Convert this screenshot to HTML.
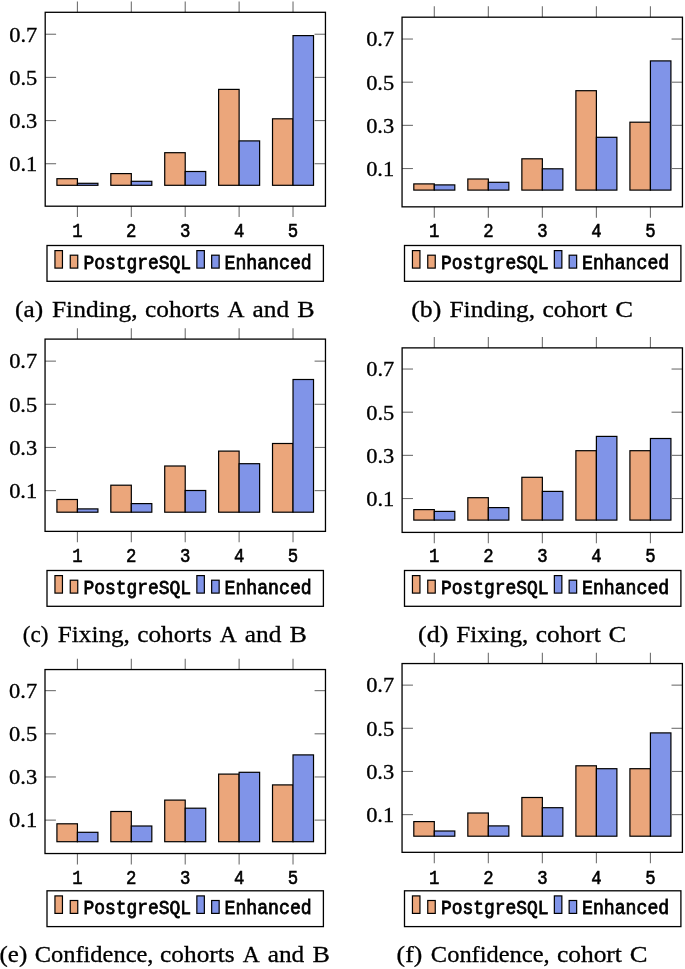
<!DOCTYPE html>
<html><head><meta charset="utf-8"><style>
html,body{margin:0;padding:0;background:#fff;}
svg{display:block;will-change:transform;}
.yl{font-family:"Liberation Serif",serif;font-size:22px;fill:#000;stroke:#000;stroke-width:0.35px;}
.xl{font-family:"Liberation Mono",monospace;font-size:20px;fill:#000;stroke:#000;stroke-width:0.6px;}
.lg{font-family:"Liberation Mono",monospace;font-size:20px;fill:#000;stroke:#000;stroke-width:0.8px;}
.cap{font-family:"Liberation Serif",serif;font-size:23.5px;fill:#000;stroke:#000;stroke-width:0.3px;}
</style></head><body>
<svg width="685" height="969" viewBox="0 0 685 969">
<rect width="685" height="969" fill="#fff"/>
<rect x="56.92" y="178.7" width="20.5" height="6.6" fill="#eba67b" stroke="#000" stroke-width="1.2"/>
<rect x="77.42" y="183.3" width="20.5" height="2" fill="#8094e8" stroke="#000" stroke-width="1.2"/>
<rect x="110.82" y="173.6" width="20.5" height="11.7" fill="#eba67b" stroke="#000" stroke-width="1.2"/>
<rect x="131.32" y="181.3" width="20.5" height="4" fill="#8094e8" stroke="#000" stroke-width="1.2"/>
<rect x="164.72" y="152.7" width="20.5" height="32.6" fill="#eba67b" stroke="#000" stroke-width="1.2"/>
<rect x="185.22" y="171.5" width="20.5" height="13.8" fill="#8094e8" stroke="#000" stroke-width="1.2"/>
<rect x="218.62" y="89.4" width="20.5" height="95.9" fill="#eba67b" stroke="#000" stroke-width="1.2"/>
<rect x="239.12" y="140.9" width="20.5" height="44.4" fill="#8094e8" stroke="#000" stroke-width="1.2"/>
<rect x="272.52" y="118.8" width="20.5" height="66.5" fill="#eba67b" stroke="#000" stroke-width="1.2"/>
<rect x="293.02" y="35.6" width="20.5" height="149.7" fill="#8094e8" stroke="#000" stroke-width="1.2"/>
<line x1="45.2" y1="163.72" x2="56.1" y2="163.72" stroke="#707070" stroke-width="1.1"/>
<line x1="314.55" y1="163.72" x2="325.45" y2="163.72" stroke="#707070" stroke-width="1.1"/>
<text x="37.3" y="171.02" class="yl" text-anchor="end" textLength="28" lengthAdjust="spacingAndGlyphs">0.1</text>
<line x1="45.2" y1="120.56" x2="56.1" y2="120.56" stroke="#707070" stroke-width="1.1"/>
<line x1="314.55" y1="120.56" x2="325.45" y2="120.56" stroke="#707070" stroke-width="1.1"/>
<text x="37.3" y="127.86" class="yl" text-anchor="end" textLength="28" lengthAdjust="spacingAndGlyphs">0.3</text>
<line x1="45.2" y1="77.4" x2="56.1" y2="77.4" stroke="#707070" stroke-width="1.1"/>
<line x1="314.55" y1="77.4" x2="325.45" y2="77.4" stroke="#707070" stroke-width="1.1"/>
<text x="37.3" y="84.7" class="yl" text-anchor="end" textLength="28" lengthAdjust="spacingAndGlyphs">0.5</text>
<line x1="45.2" y1="34.24" x2="56.1" y2="34.24" stroke="#707070" stroke-width="1.1"/>
<line x1="314.55" y1="34.24" x2="325.45" y2="34.24" stroke="#707070" stroke-width="1.1"/>
<text x="37.3" y="41.54" class="yl" text-anchor="end" textLength="28" lengthAdjust="spacingAndGlyphs">0.7</text>
<line x1="77.42" y1="1.4" x2="77.42" y2="12.3" stroke="#707070" stroke-width="1.1"/>
<line x1="77.42" y1="206.2" x2="77.42" y2="217.1" stroke="#707070" stroke-width="1.1"/>
<text x="77.42" y="237" class="xl" text-anchor="middle" textLength="10.4" lengthAdjust="spacingAndGlyphs">1</text>
<line x1="131.32" y1="1.4" x2="131.32" y2="12.3" stroke="#707070" stroke-width="1.1"/>
<line x1="131.32" y1="206.2" x2="131.32" y2="217.1" stroke="#707070" stroke-width="1.1"/>
<text x="131.32" y="237" class="xl" text-anchor="middle" textLength="10.4" lengthAdjust="spacingAndGlyphs">2</text>
<line x1="185.22" y1="1.4" x2="185.22" y2="12.3" stroke="#707070" stroke-width="1.1"/>
<line x1="185.22" y1="206.2" x2="185.22" y2="217.1" stroke="#707070" stroke-width="1.1"/>
<text x="185.22" y="237" class="xl" text-anchor="middle" textLength="10.4" lengthAdjust="spacingAndGlyphs">3</text>
<line x1="239.12" y1="1.4" x2="239.12" y2="12.3" stroke="#707070" stroke-width="1.1"/>
<line x1="239.12" y1="206.2" x2="239.12" y2="217.1" stroke="#707070" stroke-width="1.1"/>
<text x="239.12" y="237" class="xl" text-anchor="middle" textLength="10.4" lengthAdjust="spacingAndGlyphs">4</text>
<line x1="293.02" y1="1.4" x2="293.02" y2="12.3" stroke="#707070" stroke-width="1.1"/>
<line x1="293.02" y1="206.2" x2="293.02" y2="217.1" stroke="#707070" stroke-width="1.1"/>
<text x="293.02" y="237" class="xl" text-anchor="middle" textLength="10.4" lengthAdjust="spacingAndGlyphs">5</text>
<rect x="45.2" y="12.3" width="280.25" height="193.9" fill="none" stroke="#000" stroke-width="1.3"/>
<rect x="47" y="245.5" width="276.4" height="35.8" fill="none" stroke="#000" stroke-width="1.3"/>
<rect x="54.95" y="250.6" width="7.5" height="17.5" fill="#eba67b" stroke="#000" stroke-width="1.2"/>
<rect x="70.25" y="255.2" width="7.5" height="12.9" fill="#eba67b" stroke="#000" stroke-width="1.2"/>
<rect x="196.85" y="250.6" width="7.5" height="17.5" fill="#8094e8" stroke="#000" stroke-width="1.2"/>
<rect x="211.65" y="255.2" width="7.5" height="12.9" fill="#8094e8" stroke="#000" stroke-width="1.2"/>
<text x="83.5" y="268.5" class="lg" textLength="107.6" lengthAdjust="spacingAndGlyphs">PostgreSQL</text>
<text x="224.5" y="268.5" class="lg" textLength="87.2" lengthAdjust="spacingAndGlyphs">Enhanced</text>
<text x="15.14" y="316.8" class="cap" textLength="28.02" lengthAdjust="spacingAndGlyphs">(a)</text>
<text x="51.98" y="316.8" class="cap" textLength="85.55" lengthAdjust="spacingAndGlyphs">Finding,</text>
<text x="145.02" y="316.8" class="cap" textLength="74.55" lengthAdjust="spacingAndGlyphs">cohorts</text>
<text x="227.6" y="316.8" class="cap" textLength="16.97" lengthAdjust="spacingAndGlyphs">A</text>
<text x="252.55" y="316.8" class="cap" textLength="36.57" lengthAdjust="spacingAndGlyphs">and</text>
<text x="297.37" y="316.8" class="cap" textLength="17.42" lengthAdjust="spacingAndGlyphs">B</text>
<rect x="413.8" y="183.9" width="20.5" height="6.2" fill="#eba67b" stroke="#000" stroke-width="1.2"/>
<rect x="434.3" y="184.9" width="20.5" height="5.2" fill="#8094e8" stroke="#000" stroke-width="1.2"/>
<rect x="467.83" y="179" width="20.5" height="11.1" fill="#eba67b" stroke="#000" stroke-width="1.2"/>
<rect x="488.33" y="182.3" width="20.5" height="7.8" fill="#8094e8" stroke="#000" stroke-width="1.2"/>
<rect x="521.86" y="158.8" width="20.5" height="31.3" fill="#eba67b" stroke="#000" stroke-width="1.2"/>
<rect x="542.36" y="168.8" width="20.5" height="21.3" fill="#8094e8" stroke="#000" stroke-width="1.2"/>
<rect x="575.89" y="90.7" width="20.5" height="99.4" fill="#eba67b" stroke="#000" stroke-width="1.2"/>
<rect x="596.39" y="137.3" width="20.5" height="52.8" fill="#8094e8" stroke="#000" stroke-width="1.2"/>
<rect x="629.92" y="122.2" width="20.5" height="67.9" fill="#eba67b" stroke="#000" stroke-width="1.2"/>
<rect x="650.42" y="60.9" width="20.5" height="129.2" fill="#8094e8" stroke="#000" stroke-width="1.2"/>
<line x1="402.05" y1="168.52" x2="412.95" y2="168.52" stroke="#707070" stroke-width="1.1"/>
<line x1="671.54" y1="168.52" x2="682.44" y2="168.52" stroke="#707070" stroke-width="1.1"/>
<text x="394.15" y="175.82" class="yl" text-anchor="end" textLength="28" lengthAdjust="spacingAndGlyphs">0.1</text>
<line x1="402.05" y1="125.36" x2="412.95" y2="125.36" stroke="#707070" stroke-width="1.1"/>
<line x1="671.54" y1="125.36" x2="682.44" y2="125.36" stroke="#707070" stroke-width="1.1"/>
<text x="394.15" y="132.66" class="yl" text-anchor="end" textLength="28" lengthAdjust="spacingAndGlyphs">0.3</text>
<line x1="402.05" y1="82.2" x2="412.95" y2="82.2" stroke="#707070" stroke-width="1.1"/>
<line x1="671.54" y1="82.2" x2="682.44" y2="82.2" stroke="#707070" stroke-width="1.1"/>
<text x="394.15" y="89.5" class="yl" text-anchor="end" textLength="28" lengthAdjust="spacingAndGlyphs">0.5</text>
<line x1="402.05" y1="39.04" x2="412.95" y2="39.04" stroke="#707070" stroke-width="1.1"/>
<line x1="671.54" y1="39.04" x2="682.44" y2="39.04" stroke="#707070" stroke-width="1.1"/>
<text x="394.15" y="46.34" class="yl" text-anchor="end" textLength="28" lengthAdjust="spacingAndGlyphs">0.7</text>
<line x1="434.3" y1="6.3" x2="434.3" y2="17.2" stroke="#707070" stroke-width="1.1"/>
<line x1="434.3" y1="206.84" x2="434.3" y2="217.74" stroke="#707070" stroke-width="1.1"/>
<text x="434.3" y="237" class="xl" text-anchor="middle" textLength="10.4" lengthAdjust="spacingAndGlyphs">1</text>
<line x1="488.33" y1="6.3" x2="488.33" y2="17.2" stroke="#707070" stroke-width="1.1"/>
<line x1="488.33" y1="206.84" x2="488.33" y2="217.74" stroke="#707070" stroke-width="1.1"/>
<text x="488.33" y="237" class="xl" text-anchor="middle" textLength="10.4" lengthAdjust="spacingAndGlyphs">2</text>
<line x1="542.36" y1="6.3" x2="542.36" y2="17.2" stroke="#707070" stroke-width="1.1"/>
<line x1="542.36" y1="206.84" x2="542.36" y2="217.74" stroke="#707070" stroke-width="1.1"/>
<text x="542.36" y="237" class="xl" text-anchor="middle" textLength="10.4" lengthAdjust="spacingAndGlyphs">3</text>
<line x1="596.39" y1="6.3" x2="596.39" y2="17.2" stroke="#707070" stroke-width="1.1"/>
<line x1="596.39" y1="206.84" x2="596.39" y2="217.74" stroke="#707070" stroke-width="1.1"/>
<text x="596.39" y="237" class="xl" text-anchor="middle" textLength="10.4" lengthAdjust="spacingAndGlyphs">4</text>
<line x1="650.42" y1="6.3" x2="650.42" y2="17.2" stroke="#707070" stroke-width="1.1"/>
<line x1="650.42" y1="206.84" x2="650.42" y2="217.74" stroke="#707070" stroke-width="1.1"/>
<text x="650.42" y="237" class="xl" text-anchor="middle" textLength="10.4" lengthAdjust="spacingAndGlyphs">5</text>
<rect x="402.05" y="17.2" width="280.39" height="189.64" fill="none" stroke="#000" stroke-width="1.3"/>
<rect x="404.5" y="245.5" width="276.4" height="35.8" fill="none" stroke="#000" stroke-width="1.3"/>
<rect x="412.45" y="250.6" width="7.5" height="17.5" fill="#eba67b" stroke="#000" stroke-width="1.2"/>
<rect x="427.75" y="255.2" width="7.5" height="12.9" fill="#eba67b" stroke="#000" stroke-width="1.2"/>
<rect x="554.35" y="250.6" width="7.5" height="17.5" fill="#8094e8" stroke="#000" stroke-width="1.2"/>
<rect x="569.15" y="255.2" width="7.5" height="12.9" fill="#8094e8" stroke="#000" stroke-width="1.2"/>
<text x="441" y="268.5" class="lg" textLength="107.6" lengthAdjust="spacingAndGlyphs">PostgreSQL</text>
<text x="582" y="268.5" class="lg" textLength="87.2" lengthAdjust="spacingAndGlyphs">Enhanced</text>
<text x="411.22" y="317" class="cap" textLength="29.98" lengthAdjust="spacingAndGlyphs">(b)</text>
<text x="449.48" y="317" class="cap" textLength="85.55" lengthAdjust="spacingAndGlyphs">Finding,</text>
<text x="542.42" y="317" class="cap" textLength="65.02" lengthAdjust="spacingAndGlyphs">cohort</text>
<text x="615.21" y="317" class="cap" textLength="17.78" lengthAdjust="spacingAndGlyphs">C</text>
<rect x="56.92" y="499.5" width="20.5" height="12.7" fill="#eba67b" stroke="#000" stroke-width="1.2"/>
<rect x="77.42" y="508.9" width="20.5" height="3.3" fill="#8094e8" stroke="#000" stroke-width="1.2"/>
<rect x="110.82" y="485.2" width="20.5" height="27" fill="#eba67b" stroke="#000" stroke-width="1.2"/>
<rect x="131.32" y="503.6" width="20.5" height="8.6" fill="#8094e8" stroke="#000" stroke-width="1.2"/>
<rect x="164.72" y="466" width="20.5" height="46.2" fill="#eba67b" stroke="#000" stroke-width="1.2"/>
<rect x="185.22" y="490.5" width="20.5" height="21.7" fill="#8094e8" stroke="#000" stroke-width="1.2"/>
<rect x="218.62" y="451.1" width="20.5" height="61.1" fill="#eba67b" stroke="#000" stroke-width="1.2"/>
<rect x="239.12" y="463.7" width="20.5" height="48.5" fill="#8094e8" stroke="#000" stroke-width="1.2"/>
<rect x="272.52" y="443.5" width="20.5" height="68.7" fill="#eba67b" stroke="#000" stroke-width="1.2"/>
<rect x="293.02" y="379.5" width="20.5" height="132.7" fill="#8094e8" stroke="#000" stroke-width="1.2"/>
<line x1="45.05" y1="490.62" x2="55.95" y2="490.62" stroke="#707070" stroke-width="1.1"/>
<line x1="314.57" y1="490.62" x2="325.47" y2="490.62" stroke="#707070" stroke-width="1.1"/>
<text x="37.15" y="497.92" class="yl" text-anchor="end" textLength="28" lengthAdjust="spacingAndGlyphs">0.1</text>
<line x1="45.05" y1="447.46" x2="55.95" y2="447.46" stroke="#707070" stroke-width="1.1"/>
<line x1="314.57" y1="447.46" x2="325.47" y2="447.46" stroke="#707070" stroke-width="1.1"/>
<text x="37.15" y="454.76" class="yl" text-anchor="end" textLength="28" lengthAdjust="spacingAndGlyphs">0.3</text>
<line x1="45.05" y1="404.3" x2="55.95" y2="404.3" stroke="#707070" stroke-width="1.1"/>
<line x1="314.57" y1="404.3" x2="325.47" y2="404.3" stroke="#707070" stroke-width="1.1"/>
<text x="37.15" y="411.6" class="yl" text-anchor="end" textLength="28" lengthAdjust="spacingAndGlyphs">0.5</text>
<line x1="45.05" y1="361.14" x2="55.95" y2="361.14" stroke="#707070" stroke-width="1.1"/>
<line x1="314.57" y1="361.14" x2="325.47" y2="361.14" stroke="#707070" stroke-width="1.1"/>
<text x="37.15" y="368.44" class="yl" text-anchor="end" textLength="28" lengthAdjust="spacingAndGlyphs">0.7</text>
<line x1="77.42" y1="328.2" x2="77.42" y2="339.1" stroke="#707070" stroke-width="1.1"/>
<line x1="77.42" y1="531.37" x2="77.42" y2="542.27" stroke="#707070" stroke-width="1.1"/>
<text x="77.42" y="562" class="xl" text-anchor="middle" textLength="10.4" lengthAdjust="spacingAndGlyphs">1</text>
<line x1="131.32" y1="328.2" x2="131.32" y2="339.1" stroke="#707070" stroke-width="1.1"/>
<line x1="131.32" y1="531.37" x2="131.32" y2="542.27" stroke="#707070" stroke-width="1.1"/>
<text x="131.32" y="562" class="xl" text-anchor="middle" textLength="10.4" lengthAdjust="spacingAndGlyphs">2</text>
<line x1="185.22" y1="328.2" x2="185.22" y2="339.1" stroke="#707070" stroke-width="1.1"/>
<line x1="185.22" y1="531.37" x2="185.22" y2="542.27" stroke="#707070" stroke-width="1.1"/>
<text x="185.22" y="562" class="xl" text-anchor="middle" textLength="10.4" lengthAdjust="spacingAndGlyphs">3</text>
<line x1="239.12" y1="328.2" x2="239.12" y2="339.1" stroke="#707070" stroke-width="1.1"/>
<line x1="239.12" y1="531.37" x2="239.12" y2="542.27" stroke="#707070" stroke-width="1.1"/>
<text x="239.12" y="562" class="xl" text-anchor="middle" textLength="10.4" lengthAdjust="spacingAndGlyphs">4</text>
<line x1="293.02" y1="328.2" x2="293.02" y2="339.1" stroke="#707070" stroke-width="1.1"/>
<line x1="293.02" y1="531.37" x2="293.02" y2="542.27" stroke="#707070" stroke-width="1.1"/>
<text x="293.02" y="562" class="xl" text-anchor="middle" textLength="10.4" lengthAdjust="spacingAndGlyphs">5</text>
<rect x="45.05" y="339.1" width="280.42" height="192.27" fill="none" stroke="#000" stroke-width="1.3"/>
<rect x="47" y="570.5" width="276.4" height="35.8" fill="none" stroke="#000" stroke-width="1.3"/>
<rect x="54.95" y="575.6" width="7.5" height="17.5" fill="#eba67b" stroke="#000" stroke-width="1.2"/>
<rect x="70.25" y="580.2" width="7.5" height="12.9" fill="#eba67b" stroke="#000" stroke-width="1.2"/>
<rect x="196.85" y="575.6" width="7.5" height="17.5" fill="#8094e8" stroke="#000" stroke-width="1.2"/>
<rect x="211.65" y="580.2" width="7.5" height="12.9" fill="#8094e8" stroke="#000" stroke-width="1.2"/>
<text x="83.5" y="593.5" class="lg" textLength="107.6" lengthAdjust="spacingAndGlyphs">PostgreSQL</text>
<text x="224.5" y="593.5" class="lg" textLength="87.2" lengthAdjust="spacingAndGlyphs">Enhanced</text>
<text x="22.82" y="642" class="cap" textLength="25.66" lengthAdjust="spacingAndGlyphs">(c)</text>
<text x="57.79" y="642" class="cap" textLength="72.11" lengthAdjust="spacingAndGlyphs">Fixing,</text>
<text x="137.22" y="642" class="cap" textLength="74.55" lengthAdjust="spacingAndGlyphs">cohorts</text>
<text x="219.8" y="642" class="cap" textLength="16.97" lengthAdjust="spacingAndGlyphs">A</text>
<text x="244.75" y="642" class="cap" textLength="36.57" lengthAdjust="spacingAndGlyphs">and</text>
<text x="289.57" y="642" class="cap" textLength="17.42" lengthAdjust="spacingAndGlyphs">B</text>
<rect x="413.8" y="509.6" width="20.5" height="10.5" fill="#eba67b" stroke="#000" stroke-width="1.2"/>
<rect x="434.3" y="511.4" width="20.5" height="8.7" fill="#8094e8" stroke="#000" stroke-width="1.2"/>
<rect x="467.83" y="497.7" width="20.5" height="22.4" fill="#eba67b" stroke="#000" stroke-width="1.2"/>
<rect x="488.33" y="507.6" width="20.5" height="12.5" fill="#8094e8" stroke="#000" stroke-width="1.2"/>
<rect x="521.86" y="477.3" width="20.5" height="42.8" fill="#eba67b" stroke="#000" stroke-width="1.2"/>
<rect x="542.36" y="491.4" width="20.5" height="28.7" fill="#8094e8" stroke="#000" stroke-width="1.2"/>
<rect x="575.89" y="450.7" width="20.5" height="69.4" fill="#eba67b" stroke="#000" stroke-width="1.2"/>
<rect x="596.39" y="436.4" width="20.5" height="83.7" fill="#8094e8" stroke="#000" stroke-width="1.2"/>
<rect x="629.92" y="450.7" width="20.5" height="69.4" fill="#eba67b" stroke="#000" stroke-width="1.2"/>
<rect x="650.42" y="438.5" width="20.5" height="81.6" fill="#8094e8" stroke="#000" stroke-width="1.2"/>
<line x1="402.12" y1="498.52" x2="413.02" y2="498.52" stroke="#707070" stroke-width="1.1"/>
<line x1="671.54" y1="498.52" x2="682.44" y2="498.52" stroke="#707070" stroke-width="1.1"/>
<text x="394.22" y="505.82" class="yl" text-anchor="end" textLength="28" lengthAdjust="spacingAndGlyphs">0.1</text>
<line x1="402.12" y1="455.36" x2="413.02" y2="455.36" stroke="#707070" stroke-width="1.1"/>
<line x1="671.54" y1="455.36" x2="682.44" y2="455.36" stroke="#707070" stroke-width="1.1"/>
<text x="394.22" y="462.66" class="yl" text-anchor="end" textLength="28" lengthAdjust="spacingAndGlyphs">0.3</text>
<line x1="402.12" y1="412.2" x2="413.02" y2="412.2" stroke="#707070" stroke-width="1.1"/>
<line x1="671.54" y1="412.2" x2="682.44" y2="412.2" stroke="#707070" stroke-width="1.1"/>
<text x="394.22" y="419.5" class="yl" text-anchor="end" textLength="28" lengthAdjust="spacingAndGlyphs">0.5</text>
<line x1="402.12" y1="369.04" x2="413.02" y2="369.04" stroke="#707070" stroke-width="1.1"/>
<line x1="671.54" y1="369.04" x2="682.44" y2="369.04" stroke="#707070" stroke-width="1.1"/>
<text x="394.22" y="376.34" class="yl" text-anchor="end" textLength="28" lengthAdjust="spacingAndGlyphs">0.7</text>
<line x1="434.3" y1="336.98" x2="434.3" y2="347.88" stroke="#707070" stroke-width="1.1"/>
<line x1="434.3" y1="532.4" x2="434.3" y2="543.3" stroke="#707070" stroke-width="1.1"/>
<text x="434.3" y="562" class="xl" text-anchor="middle" textLength="10.4" lengthAdjust="spacingAndGlyphs">1</text>
<line x1="488.33" y1="336.98" x2="488.33" y2="347.88" stroke="#707070" stroke-width="1.1"/>
<line x1="488.33" y1="532.4" x2="488.33" y2="543.3" stroke="#707070" stroke-width="1.1"/>
<text x="488.33" y="562" class="xl" text-anchor="middle" textLength="10.4" lengthAdjust="spacingAndGlyphs">2</text>
<line x1="542.36" y1="336.98" x2="542.36" y2="347.88" stroke="#707070" stroke-width="1.1"/>
<line x1="542.36" y1="532.4" x2="542.36" y2="543.3" stroke="#707070" stroke-width="1.1"/>
<text x="542.36" y="562" class="xl" text-anchor="middle" textLength="10.4" lengthAdjust="spacingAndGlyphs">3</text>
<line x1="596.39" y1="336.98" x2="596.39" y2="347.88" stroke="#707070" stroke-width="1.1"/>
<line x1="596.39" y1="532.4" x2="596.39" y2="543.3" stroke="#707070" stroke-width="1.1"/>
<text x="596.39" y="562" class="xl" text-anchor="middle" textLength="10.4" lengthAdjust="spacingAndGlyphs">4</text>
<line x1="650.42" y1="336.98" x2="650.42" y2="347.88" stroke="#707070" stroke-width="1.1"/>
<line x1="650.42" y1="532.4" x2="650.42" y2="543.3" stroke="#707070" stroke-width="1.1"/>
<text x="650.42" y="562" class="xl" text-anchor="middle" textLength="10.4" lengthAdjust="spacingAndGlyphs">5</text>
<rect x="402.12" y="347.88" width="280.32" height="184.52" fill="none" stroke="#000" stroke-width="1.3"/>
<rect x="404.5" y="570.5" width="276.4" height="35.8" fill="none" stroke="#000" stroke-width="1.3"/>
<rect x="412.45" y="575.6" width="7.5" height="17.5" fill="#eba67b" stroke="#000" stroke-width="1.2"/>
<rect x="427.75" y="580.2" width="7.5" height="12.9" fill="#eba67b" stroke="#000" stroke-width="1.2"/>
<rect x="554.35" y="575.6" width="7.5" height="17.5" fill="#8094e8" stroke="#000" stroke-width="1.2"/>
<rect x="569.15" y="580.2" width="7.5" height="12.9" fill="#8094e8" stroke="#000" stroke-width="1.2"/>
<text x="441" y="593.5" class="lg" textLength="107.6" lengthAdjust="spacingAndGlyphs">PostgreSQL</text>
<text x="582" y="593.5" class="lg" textLength="87.2" lengthAdjust="spacingAndGlyphs">Enhanced</text>
<text x="418.11" y="642" class="cap" textLength="30.2" lengthAdjust="spacingAndGlyphs">(d)</text>
<text x="456.29" y="642" class="cap" textLength="72.11" lengthAdjust="spacingAndGlyphs">Fixing,</text>
<text x="535.82" y="642" class="cap" textLength="65.02" lengthAdjust="spacingAndGlyphs">cohort</text>
<text x="608.61" y="642" class="cap" textLength="17.78" lengthAdjust="spacingAndGlyphs">C</text>
<rect x="56.92" y="823.8" width="20.5" height="17.9" fill="#eba67b" stroke="#000" stroke-width="1.2"/>
<rect x="77.42" y="832.3" width="20.5" height="9.4" fill="#8094e8" stroke="#000" stroke-width="1.2"/>
<rect x="110.82" y="811.5" width="20.5" height="30.2" fill="#eba67b" stroke="#000" stroke-width="1.2"/>
<rect x="131.32" y="826" width="20.5" height="15.7" fill="#8094e8" stroke="#000" stroke-width="1.2"/>
<rect x="164.72" y="800.1" width="20.5" height="41.6" fill="#eba67b" stroke="#000" stroke-width="1.2"/>
<rect x="185.22" y="808.2" width="20.5" height="33.5" fill="#8094e8" stroke="#000" stroke-width="1.2"/>
<rect x="218.62" y="774.1" width="20.5" height="67.6" fill="#eba67b" stroke="#000" stroke-width="1.2"/>
<rect x="239.12" y="772.3" width="20.5" height="69.4" fill="#8094e8" stroke="#000" stroke-width="1.2"/>
<rect x="272.52" y="784.9" width="20.5" height="56.8" fill="#eba67b" stroke="#000" stroke-width="1.2"/>
<rect x="293.02" y="754.9" width="20.5" height="86.8" fill="#8094e8" stroke="#000" stroke-width="1.2"/>
<line x1="45" y1="820.12" x2="55.9" y2="820.12" stroke="#707070" stroke-width="1.1"/>
<line x1="314.57" y1="820.12" x2="325.47" y2="820.12" stroke="#707070" stroke-width="1.1"/>
<text x="37.1" y="827.42" class="yl" text-anchor="end" textLength="28" lengthAdjust="spacingAndGlyphs">0.1</text>
<line x1="45" y1="776.96" x2="55.9" y2="776.96" stroke="#707070" stroke-width="1.1"/>
<line x1="314.57" y1="776.96" x2="325.47" y2="776.96" stroke="#707070" stroke-width="1.1"/>
<text x="37.1" y="784.26" class="yl" text-anchor="end" textLength="28" lengthAdjust="spacingAndGlyphs">0.3</text>
<line x1="45" y1="733.8" x2="55.9" y2="733.8" stroke="#707070" stroke-width="1.1"/>
<line x1="314.57" y1="733.8" x2="325.47" y2="733.8" stroke="#707070" stroke-width="1.1"/>
<text x="37.1" y="741.1" class="yl" text-anchor="end" textLength="28" lengthAdjust="spacingAndGlyphs">0.5</text>
<line x1="45" y1="690.64" x2="55.9" y2="690.64" stroke="#707070" stroke-width="1.1"/>
<line x1="314.57" y1="690.64" x2="325.47" y2="690.64" stroke="#707070" stroke-width="1.1"/>
<text x="37.1" y="697.94" class="yl" text-anchor="end" textLength="28" lengthAdjust="spacingAndGlyphs">0.7</text>
<line x1="77.42" y1="658.65" x2="77.42" y2="669.55" stroke="#707070" stroke-width="1.1"/>
<line x1="77.42" y1="853.54" x2="77.42" y2="864.44" stroke="#707070" stroke-width="1.1"/>
<text x="77.42" y="883.8" class="xl" text-anchor="middle" textLength="10.4" lengthAdjust="spacingAndGlyphs">1</text>
<line x1="131.32" y1="658.65" x2="131.32" y2="669.55" stroke="#707070" stroke-width="1.1"/>
<line x1="131.32" y1="853.54" x2="131.32" y2="864.44" stroke="#707070" stroke-width="1.1"/>
<text x="131.32" y="883.8" class="xl" text-anchor="middle" textLength="10.4" lengthAdjust="spacingAndGlyphs">2</text>
<line x1="185.22" y1="658.65" x2="185.22" y2="669.55" stroke="#707070" stroke-width="1.1"/>
<line x1="185.22" y1="853.54" x2="185.22" y2="864.44" stroke="#707070" stroke-width="1.1"/>
<text x="185.22" y="883.8" class="xl" text-anchor="middle" textLength="10.4" lengthAdjust="spacingAndGlyphs">3</text>
<line x1="239.12" y1="658.65" x2="239.12" y2="669.55" stroke="#707070" stroke-width="1.1"/>
<line x1="239.12" y1="853.54" x2="239.12" y2="864.44" stroke="#707070" stroke-width="1.1"/>
<text x="239.12" y="883.8" class="xl" text-anchor="middle" textLength="10.4" lengthAdjust="spacingAndGlyphs">4</text>
<line x1="293.02" y1="658.65" x2="293.02" y2="669.55" stroke="#707070" stroke-width="1.1"/>
<line x1="293.02" y1="853.54" x2="293.02" y2="864.44" stroke="#707070" stroke-width="1.1"/>
<text x="293.02" y="883.8" class="xl" text-anchor="middle" textLength="10.4" lengthAdjust="spacingAndGlyphs">5</text>
<rect x="45" y="669.55" width="280.47" height="183.99" fill="none" stroke="#000" stroke-width="1.3"/>
<rect x="47" y="890.8" width="276.4" height="35.8" fill="none" stroke="#000" stroke-width="1.3"/>
<rect x="54.95" y="895.9" width="7.5" height="17.5" fill="#eba67b" stroke="#000" stroke-width="1.2"/>
<rect x="70.25" y="900.5" width="7.5" height="12.9" fill="#eba67b" stroke="#000" stroke-width="1.2"/>
<rect x="196.85" y="895.9" width="7.5" height="17.5" fill="#8094e8" stroke="#000" stroke-width="1.2"/>
<rect x="211.65" y="900.5" width="7.5" height="12.9" fill="#8094e8" stroke="#000" stroke-width="1.2"/>
<text x="83.5" y="913.8" class="lg" textLength="107.6" lengthAdjust="spacingAndGlyphs">PostgreSQL</text>
<text x="224.5" y="913.8" class="lg" textLength="87.2" lengthAdjust="spacingAndGlyphs">Enhanced</text>
<text x="-0.45" y="962.3" class="cap" textLength="27.7" lengthAdjust="spacingAndGlyphs">(e)</text>
<text x="34.69" y="962.3" class="cap" textLength="118.78" lengthAdjust="spacingAndGlyphs">Confidence,</text>
<text x="160.12" y="962.3" class="cap" textLength="74.55" lengthAdjust="spacingAndGlyphs">cohorts</text>
<text x="242.7" y="962.3" class="cap" textLength="16.97" lengthAdjust="spacingAndGlyphs">A</text>
<text x="267.65" y="962.3" class="cap" textLength="36.57" lengthAdjust="spacingAndGlyphs">and</text>
<text x="312.47" y="962.3" class="cap" textLength="17.42" lengthAdjust="spacingAndGlyphs">B</text>
<rect x="413.8" y="821.6" width="20.5" height="14.6" fill="#eba67b" stroke="#000" stroke-width="1.2"/>
<rect x="434.3" y="831" width="20.5" height="5.2" fill="#8094e8" stroke="#000" stroke-width="1.2"/>
<rect x="467.83" y="813" width="20.5" height="23.2" fill="#eba67b" stroke="#000" stroke-width="1.2"/>
<rect x="488.33" y="825.9" width="20.5" height="10.3" fill="#8094e8" stroke="#000" stroke-width="1.2"/>
<rect x="521.86" y="797.5" width="20.5" height="38.7" fill="#eba67b" stroke="#000" stroke-width="1.2"/>
<rect x="542.36" y="807.7" width="20.5" height="28.5" fill="#8094e8" stroke="#000" stroke-width="1.2"/>
<rect x="575.89" y="765.8" width="20.5" height="70.4" fill="#eba67b" stroke="#000" stroke-width="1.2"/>
<rect x="596.39" y="768.7" width="20.5" height="67.5" fill="#8094e8" stroke="#000" stroke-width="1.2"/>
<rect x="629.92" y="768.7" width="20.5" height="67.5" fill="#eba67b" stroke="#000" stroke-width="1.2"/>
<rect x="650.42" y="732.9" width="20.5" height="103.3" fill="#8094e8" stroke="#000" stroke-width="1.2"/>
<line x1="402.05" y1="814.62" x2="412.95" y2="814.62" stroke="#707070" stroke-width="1.1"/>
<line x1="671.5" y1="814.62" x2="682.4" y2="814.62" stroke="#707070" stroke-width="1.1"/>
<text x="394.15" y="821.92" class="yl" text-anchor="end" textLength="28" lengthAdjust="spacingAndGlyphs">0.1</text>
<line x1="402.05" y1="771.46" x2="412.95" y2="771.46" stroke="#707070" stroke-width="1.1"/>
<line x1="671.5" y1="771.46" x2="682.4" y2="771.46" stroke="#707070" stroke-width="1.1"/>
<text x="394.15" y="778.76" class="yl" text-anchor="end" textLength="28" lengthAdjust="spacingAndGlyphs">0.3</text>
<line x1="402.05" y1="728.3" x2="412.95" y2="728.3" stroke="#707070" stroke-width="1.1"/>
<line x1="671.5" y1="728.3" x2="682.4" y2="728.3" stroke="#707070" stroke-width="1.1"/>
<text x="394.15" y="735.6" class="yl" text-anchor="end" textLength="28" lengthAdjust="spacingAndGlyphs">0.5</text>
<line x1="402.05" y1="685.14" x2="412.95" y2="685.14" stroke="#707070" stroke-width="1.1"/>
<line x1="671.5" y1="685.14" x2="682.4" y2="685.14" stroke="#707070" stroke-width="1.1"/>
<text x="394.15" y="692.44" class="yl" text-anchor="end" textLength="28" lengthAdjust="spacingAndGlyphs">0.7</text>
<line x1="434.3" y1="652.65" x2="434.3" y2="663.55" stroke="#707070" stroke-width="1.1"/>
<line x1="434.3" y1="852.33" x2="434.3" y2="863.23" stroke="#707070" stroke-width="1.1"/>
<text x="434.3" y="883.8" class="xl" text-anchor="middle" textLength="10.4" lengthAdjust="spacingAndGlyphs">1</text>
<line x1="488.33" y1="652.65" x2="488.33" y2="663.55" stroke="#707070" stroke-width="1.1"/>
<line x1="488.33" y1="852.33" x2="488.33" y2="863.23" stroke="#707070" stroke-width="1.1"/>
<text x="488.33" y="883.8" class="xl" text-anchor="middle" textLength="10.4" lengthAdjust="spacingAndGlyphs">2</text>
<line x1="542.36" y1="652.65" x2="542.36" y2="663.55" stroke="#707070" stroke-width="1.1"/>
<line x1="542.36" y1="852.33" x2="542.36" y2="863.23" stroke="#707070" stroke-width="1.1"/>
<text x="542.36" y="883.8" class="xl" text-anchor="middle" textLength="10.4" lengthAdjust="spacingAndGlyphs">3</text>
<line x1="596.39" y1="652.65" x2="596.39" y2="663.55" stroke="#707070" stroke-width="1.1"/>
<line x1="596.39" y1="852.33" x2="596.39" y2="863.23" stroke="#707070" stroke-width="1.1"/>
<text x="596.39" y="883.8" class="xl" text-anchor="middle" textLength="10.4" lengthAdjust="spacingAndGlyphs">4</text>
<line x1="650.42" y1="652.65" x2="650.42" y2="663.55" stroke="#707070" stroke-width="1.1"/>
<line x1="650.42" y1="852.33" x2="650.42" y2="863.23" stroke="#707070" stroke-width="1.1"/>
<text x="650.42" y="883.8" class="xl" text-anchor="middle" textLength="10.4" lengthAdjust="spacingAndGlyphs">5</text>
<rect x="402.05" y="663.55" width="280.35" height="188.78" fill="none" stroke="#000" stroke-width="1.3"/>
<rect x="404.5" y="890.8" width="276.4" height="35.8" fill="none" stroke="#000" stroke-width="1.3"/>
<rect x="412.45" y="895.9" width="7.5" height="17.5" fill="#eba67b" stroke="#000" stroke-width="1.2"/>
<rect x="427.75" y="900.5" width="7.5" height="12.9" fill="#eba67b" stroke="#000" stroke-width="1.2"/>
<rect x="554.35" y="895.9" width="7.5" height="17.5" fill="#8094e8" stroke="#000" stroke-width="1.2"/>
<rect x="569.15" y="900.5" width="7.5" height="12.9" fill="#8094e8" stroke="#000" stroke-width="1.2"/>
<text x="441" y="913.8" class="lg" textLength="107.6" lengthAdjust="spacingAndGlyphs">PostgreSQL</text>
<text x="582" y="913.8" class="lg" textLength="87.2" lengthAdjust="spacingAndGlyphs">Enhanced</text>
<text x="396.63" y="962.3" class="cap" textLength="25.57" lengthAdjust="spacingAndGlyphs">(f)</text>
<text x="430.89" y="962.3" class="cap" textLength="118.78" lengthAdjust="spacingAndGlyphs">Confidence,</text>
<text x="556.92" y="962.3" class="cap" textLength="65.02" lengthAdjust="spacingAndGlyphs">cohort</text>
<text x="629.71" y="962.3" class="cap" textLength="17.78" lengthAdjust="spacingAndGlyphs">C</text>
</svg>
</body></html>
